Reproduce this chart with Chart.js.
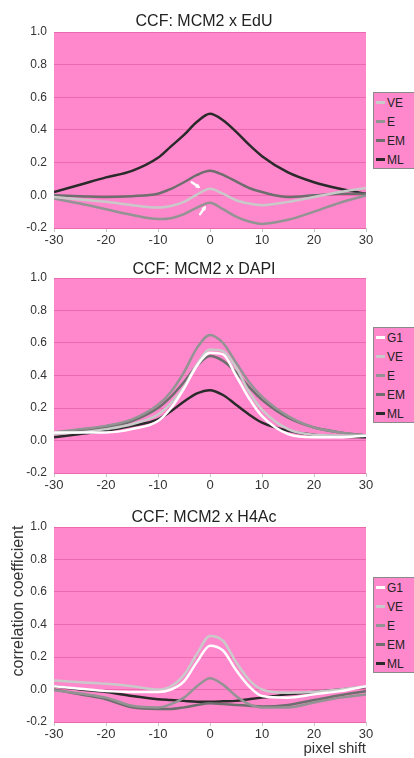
<!DOCTYPE html>
<html>
<head>
<meta charset="utf-8">
<script src="https://cdn.jsdelivr.net/npm/chart.js@4.4.1/dist/chart.umd.min.js"></script>
<style>
  html, body { margin: 0; padding: 0; background: #fff; }
  body { width: 414px; height: 758px; position: relative; overflow: hidden; font-family: "Liberation Sans", Arial, sans-serif; }
  .panel { position: absolute; left: 0; width: 414px; }
  .title { position: absolute; left: 44px; width: 320px; text-align: center; font-size: 16px; color: #222; line-height: 18px; }
  .legend { position: absolute; left: 373px; width: 41px; box-sizing: border-box; border: 1px solid #8a8a8a; border-right: none; background: #ff88cc; overflow: hidden; }
  .item { position: absolute; left: 2px; height: 14px; font-size: 12px; line-height: 14px; color: #222; white-space: nowrap; }
  .sw { display: inline-block; width: 9px; height: 3px; vertical-align: middle; margin-right: 2px; position: relative; top: -1px; }
  .ytitle { position: absolute; font-size: 16px; line-height: 18px; height: 18px; color: #333; transform: rotate(-90deg); transform-origin: center center; white-space: nowrap; }
</style>
</head>
<body>
<div class="panel" style="top:0;height:250px"><canvas id="c1" width="414" height="250"></canvas>
  <div class="title" style="top:12px">CCF: MCM2 x EdU</div>
  <div class="legend" id="l1" style="top:92px;height:77px"></div>
</div>
<div class="panel" style="top:250px;height:250px"><canvas id="c2" width="414" height="250"></canvas>
  <div class="title" style="top:10px">CCF: MCM2 x DAPI</div>
  <div class="legend" id="l2" style="top:77px;height:96px"></div>
</div>
<div class="panel" style="top:500px;height:258px"><canvas id="c3" width="414" height="258"></canvas>
  <div class="title" style="top:8px">CCF: MCM2 x H4Ac</div>
  <div class="legend" id="l3" style="top:77px;height:96px"></div>
  <div class="ytitle" style="left:-63px;top:92px;width:162px;text-align:center">correlation coefficient</div>
</div>
<script>
// ---- data ----
const xShift = [-30,-25,-20,-15,-10,-7.5,-5,-2.5,0,2.5,5,7.5,10,15,20,25,30];
const yTicks = [-0.2,0.0,0.2,0.4,0.6,0.8,1.0];
const xTicks = [-30,-20,-10,0,10,20,30];

// Panel 1: MCM2 x EdU
const edu_VE = [-0.01,-0.025,-0.04,-0.06,-0.075,-0.065,-0.04,0.005,0.04,0.01,-0.03,-0.05,-0.06,-0.04,-0.01,0.02,0.045];
const edu_E  = [-0.02,-0.05,-0.085,-0.12,-0.145,-0.14,-0.115,-0.075,-0.045,-0.085,-0.13,-0.16,-0.175,-0.15,-0.1,-0.045,0.0];
const edu_EM = [0.0,-0.005,-0.01,-0.005,0.01,0.04,0.08,0.125,0.15,0.125,0.085,0.045,0.02,-0.01,0.0,0.01,0.01];
const edu_ML = [0.02,0.065,0.11,0.15,0.23,0.3,0.37,0.45,0.50,0.46,0.39,0.31,0.24,0.14,0.08,0.04,0.01];
const arrowTails = [[-3.5,0.08],[-1.9,-0.115]];
const arrowHeads = [[-1.9,0.045],[-0.8,-0.065]];

// Panel 2: MCM2 x DAPI
const dapi_G1 = [0.05,0.05,0.05,0.07,0.12,0.2,0.32,0.46,0.54,0.53,0.4,0.26,0.15,0.04,0.02,0.02,0.03];
const dapi_VE = [0.04,0.05,0.07,0.1,0.16,0.23,0.33,0.47,0.56,0.55,0.45,0.3,0.19,0.07,0.035,0.03,0.03];
const dapi_E  = [0.05,0.07,0.09,0.13,0.22,0.3,0.42,0.57,0.65,0.6,0.48,0.36,0.27,0.15,0.08,0.05,0.03];
const dapi_EM = [0.04,0.06,0.08,0.12,0.2,0.27,0.36,0.46,0.52,0.49,0.42,0.33,0.25,0.14,0.08,0.05,0.03];
const dapi_ML = [0.02,0.04,0.06,0.09,0.13,0.18,0.24,0.29,0.31,0.28,0.22,0.16,0.11,0.06,0.035,0.025,0.02];

// Panel 3: MCM2 x H4Ac
const h4_G1 = [0.02,0.005,-0.01,-0.015,-0.015,0.0,0.05,0.17,0.27,0.24,0.12,0.02,-0.04,-0.05,-0.03,-0.01,0.02];
const h4_VE = [0.055,0.045,0.035,0.02,0.0,0.02,0.09,0.22,0.33,0.3,0.17,0.06,0.0,-0.02,-0.015,0.0,0.02];
const h4_E  = [-0.005,-0.025,-0.05,-0.1,-0.11,-0.09,-0.05,0.02,0.07,0.03,-0.04,-0.09,-0.11,-0.11,-0.08,-0.05,-0.03];
const h4_EM = [0.0,-0.03,-0.06,-0.11,-0.12,-0.12,-0.11,-0.095,-0.085,-0.09,-0.095,-0.1,-0.105,-0.095,-0.065,-0.035,-0.01];
const h4_ML = [0.02,0.0,-0.015,-0.04,-0.06,-0.065,-0.07,-0.075,-0.075,-0.073,-0.07,-0.06,-0.05,-0.03,-0.015,0.0,0.015];

const colors = { G1: '#ffffff', VE: '#c9c9c9', E: '#939393', EM: '#6e6e6e', ML: '#2a2a2a' };
const PINK = '#ff88cc';

function pts(arr) { return xShift.map((x, i) => ({ x: x, y: arr[i] })); }

const bgPlugin = {
  id: 'bg',
  beforeDraw(chart) {
    const a = chart.chartArea, ctx = chart.ctx;
    ctx.save(); ctx.fillStyle = PINK; ctx.fillRect(a.left, a.top, a.right - a.left, a.bottom - a.top); ctx.restore();
  }
};

function arrowPlugin(tails, heads) {
  return {
    id: 'arrows',
    afterDatasetsDraw(chart) {
      const xs = chart.scales.x, ys = chart.scales.y, ctx = chart.ctx;
      ctx.save();
      ctx.strokeStyle = '#ffffff'; ctx.fillStyle = '#ffffff'; ctx.lineWidth = 2.5; ctx.lineCap = 'round';
      tails.forEach((t, i) => {
        const x0 = xs.getPixelForValue(t[0]), y0 = ys.getPixelForValue(t[1]);
        const x1 = xs.getPixelForValue(heads[i][0]), y1 = ys.getPixelForValue(heads[i][1]);
        const ang = Math.atan2(y1 - y0, x1 - x0);
        ctx.beginPath(); ctx.moveTo(x0, y0); ctx.lineTo(x1 - 2 * Math.cos(ang), y1 - 2 * Math.sin(ang)); ctx.stroke();
        ctx.beginPath();
        ctx.moveTo(x1, y1);
        ctx.lineTo(x1 - 5 * Math.cos(ang - 0.5), y1 - 5 * Math.sin(ang - 0.5));
        ctx.lineTo(x1 - 5 * Math.cos(ang + 0.5), y1 - 5 * Math.sin(ang + 0.5));
        ctx.closePath(); ctx.fill();
      });
      ctx.restore();
    }
  };
}

function makeChart(id, series, opts) {
  const datasets = series.map(s => ({
    label: s[0], data: pts(s[1]), borderColor: colors[s[0]], borderWidth: 2.5,
    pointRadius: 0, cubicInterpolationMode: 'monotone', fill: false
  }));
  const plugins = [bgPlugin];
  if (opts.arrows) plugins.push(opts.arrows);
  new Chart(document.getElementById(id), {
    type: 'line',
    data: { datasets: datasets },
    plugins: plugins,
    options: {
      responsive: false, animation: false, devicePixelRatio: 1,
      layout: { padding: { top: opts.top, right: 48, left: 0, bottom: 0 } },
      plugins: { legend: { display: false }, title: { display: false }, tooltip: { enabled: false } },
      scales: {
        x: {
          type: 'linear', min: -30, max: 30,
          afterBuildTicks: (s) => { s.ticks = xTicks.map(v => ({ value: v })); },
          afterFit: (s) => { s.height = opts.xh; },
          grid: { drawOnChartArea: false, drawTicks: true, tickLength: 4, color: '#c8c8c8' },
          border: { display: false },
          ticks: { color: '#333', font: { family: 'Liberation Sans', size: 13 }, padding: 1, maxRotation: 0 },
          title: opts.xtitle ? { display: true, text: opts.xtitle, align: 'end', color: '#333', font: { family: 'Liberation Sans', size: 15 }, padding: { top: 0, bottom: 0 } } : { display: false }
        },
        y: {
          min: -0.2, max: 1.0,
          afterBuildTicks: (s) => { s.ticks = yTicks.map(v => ({ value: v })); },
          afterFit: (s) => { s.width = 54; },
          grid: { color: '#ee6aae', lineWidth: 1, drawTicks: false },
          border: { display: false },
          ticks: { color: '#333', font: { family: 'Liberation Sans', size: 12 }, padding: 7, callback: v => Number(v).toFixed(1) }
        }
      }
    }
  });
}

function makeLegend(id, names) {
  const el = document.getElementById(id);
  names.forEach((n, i) => {
    const d = document.createElement('div');
    d.className = 'item';
    d.style.top = (3 + i * 19) + 'px';
    d.innerHTML = '<span class="sw" style="background:' + colors[n] + '"></span>' + n;
    el.appendChild(d);
  });
}

makeChart('c1', [['VE', edu_VE], ['E', edu_E], ['EM', edu_EM], ['ML', edu_ML]], { top: 32, xh: 22, arrows: arrowPlugin(arrowTails, arrowHeads) });
makeChart('c2', [['G1', dapi_G1], ['VE', dapi_VE], ['E', dapi_E], ['EM', dapi_EM], ['ML', dapi_ML]], { top: 28, xh: 27 });
makeChart('c3', [['G1', h4_G1], ['VE', h4_VE], ['E', h4_E], ['EM', h4_EM], ['ML', h4_ML]], { top: 27, xh: 36, xtitle: 'pixel shift' });

makeLegend('l1', ['VE', 'E', 'EM', 'ML']);
makeLegend('l2', ['G1', 'VE', 'E', 'EM', 'ML']);
makeLegend('l3', ['G1', 'VE', 'E', 'EM', 'ML']);
</script>
</body>
</html>
